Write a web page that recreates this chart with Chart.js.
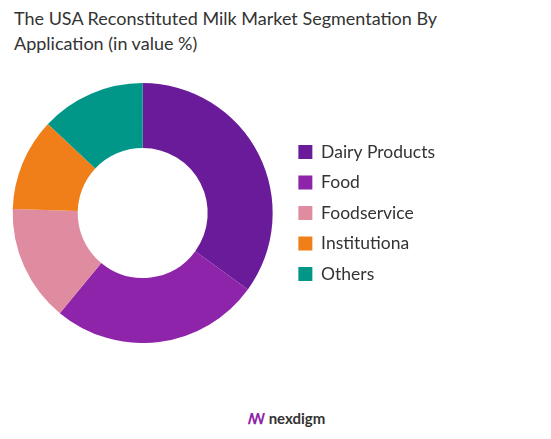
<!DOCTYPE html><html><head><script src="https://cdn.jsdelivr.net/npm/chart.js"></script>
<style>body{margin:0;background:#fff;font-family:Lato,"Open Sans",sans-serif;width:551px;height:439px;overflow:hidden;position:relative}
#t{position:absolute;left:14px;top:6px;font-size:18px;color:#333;line-height:25px}
#c{position:absolute;left:0;top:83px}
#logo{position:absolute;top:408px;left:248px;font-size:15px;color:#333;font-weight:bold}
#logo span{color:#8e24aa}</style></head><body>
<div id="t">The USA Reconstituted Milk Market Segmentation By<br>Application (in value %)</div>
<div id="c" style="width:445px;height:260px"><canvas id="cv"></canvas></div>
<div id="logo"><span>ꟿ</span> nexdigm</div>
<script>
const categories=["Dairy Products","Food","Foodservice","Institutiona","Others"];
const values=[35,26,14.5,11.5,13];
const colors=["#6a1b9a","#8e24aa","#e08ca0","#f07f1a","#009688"];
new Chart(document.getElementById('cv'),{type:'doughnut',data:{labels:categories,datasets:[{data:values,backgroundColor:colors,borderWidth:0}]},
options:{responsive:true,maintainAspectRatio:false,animation:false,cutout:'50%',layout:{padding:0},
plugins:{tooltip:{enabled:false},legend:{position:'right',align:'center',labels:{boxWidth:14,boxHeight:14,padding:13,color:'#333',font:{size:17.5,family:'Lato'}}}}}});
</script></body></html>
